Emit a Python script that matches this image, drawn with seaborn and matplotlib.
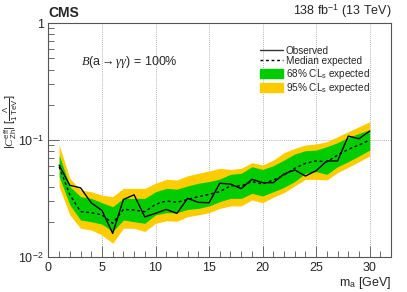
import numpy as np
import pandas as pd
import seaborn as sns
import matplotlib
matplotlib.use("Agg")
import matplotlib.pyplot as plt
from matplotlib.patches import Patch
from matplotlib.lines import Line2D
from matplotlib.ticker import FixedLocator, LogLocator, NullFormatter

mass = list(range(1, 31))
observed = [0.061, 0.041, 0.039, 0.029, 0.025, 0.0159, 0.031, 0.034, 0.022, 0.0236,
            0.0255, 0.0236, 0.0317, 0.0293, 0.0291, 0.0427, 0.042, 0.0384, 0.0461, 0.0432,
            0.0432, 0.0512, 0.0554, 0.0492, 0.0547, 0.0662, 0.0662, 0.108, 0.1026, 0.1193]
expected = [0.059, 0.034, 0.0244, 0.0239, 0.0229, 0.0194, 0.0255, 0.0252, 0.0244, 0.0282,
            0.0301, 0.0293, 0.0311, 0.0328, 0.0343, 0.0362, 0.0405, 0.0405, 0.0441, 0.042,
            0.0455, 0.050, 0.0573, 0.0632, 0.0662, 0.065, 0.0744, 0.0832, 0.0906, 0.100]
band68_up = [0.0744, 0.040, 0.0328, 0.0317, 0.0291, 0.0269, 0.0317, 0.0317, 0.0317, 0.0361,
             0.0386, 0.038, 0.0405, 0.0427, 0.0441, 0.0464, 0.0509, 0.0519, 0.0591, 0.056,
             0.0603, 0.0674, 0.0759, 0.0811, 0.082, 0.0877, 0.0949, 0.1054, 0.114, 0.122]
band68_dn = [0.0487, 0.0278, 0.0207, 0.0200, 0.0191, 0.0165, 0.0207, 0.0200, 0.0194, 0.0229,
             0.0239, 0.0239, 0.0255, 0.026, 0.0273, 0.0297, 0.0317, 0.0317, 0.035, 0.0332,
             0.0361, 0.0394, 0.0441, 0.0519, 0.0536, 0.0509, 0.0591, 0.0653, 0.073, 0.082]
band95_up = [0.0906, 0.047, 0.0374, 0.0361, 0.0338, 0.0328, 0.0386, 0.0386, 0.0386, 0.0427,
             0.0461, 0.0455, 0.0495, 0.0519, 0.0543, 0.0573, 0.056, 0.0573, 0.064, 0.0612,
             0.0674, 0.0779, 0.0849, 0.0906, 0.0924, 0.0967, 0.1068, 0.1178, 0.13, 0.1435]
band95_dn = [0.0399, 0.0229, 0.0176, 0.017, 0.0154, 0.0131, 0.0176, 0.0176, 0.0165, 0.0194,
             0.0204, 0.0202, 0.0221, 0.0229, 0.0239, 0.026, 0.0273, 0.0273, 0.0307, 0.0291,
             0.0324, 0.0355, 0.0405, 0.0461, 0.0461, 0.0455, 0.0526, 0.0584, 0.0653, 0.073]

df = pd.DataFrame({"mass": mass, "observed": observed, "expected": expected,
                   "up68": band68_up, "dn68": band68_dn, "up95": band95_up, "dn95": band95_dn})

sns.set_style("ticks")
plt.rcParams["font.family"] = ["Liberation Sans", "DejaVu Sans"]
plt.rcParams["mathtext.fontset"] = "custom"
plt.rcParams["mathtext.rm"] = "Liberation Sans"
plt.rcParams["mathtext.it"] = "Liberation Serif:italic"

green = "#00cc00"
yellow = "#ffcc00"

fig = plt.figure(figsize=(4.07, 2.92), dpi=100)
ax = fig.add_axes([0.119, 0.12, 0.842, 0.801])

ax.fill_between(df["mass"], df["dn95"], df["up95"], color=yellow, lw=0, zorder=1)
ax.fill_between(df["mass"], df["dn68"], df["up68"], color=green, lw=0, zorder=2)
sns.lineplot(data=df, x="mass", y="expected", ax=ax, color="black", lw=1.0,
             linestyle=(0, (2, 2)), zorder=3)
sns.lineplot(data=df, x="mass", y="observed", ax=ax, color="black", lw=1.0, zorder=4)

ax.set_yscale("log")
ax.set_xlim(0, 32)
ax.set_ylim(0.01, 1)

ax.set_xticks([0, 5, 10, 15, 20, 25, 30])
ax.xaxis.set_minor_locator(FixedLocator(np.arange(0, 32, 1)))
ax.set_yticks([0.01, 0.1, 1])
ax.set_yticklabels([r"$10^{-2}$", r"$10^{-1}$", "1"])
ax.yaxis.set_minor_locator(LogLocator(base=10, subs=np.arange(2, 10)))
ax.yaxis.set_minor_formatter(NullFormatter())
ax.tick_params(axis="both", which="major", direction="in", length=8, width=0.6,
               labelsize=9, color="#555555")
ax.tick_params(axis="both", which="minor", direction="in", length=4, width=0.6,
               color="#555555")
for s in ax.spines.values():
    s.set_color("#555555")
    s.set_linewidth(0.8)

for xv in [5, 10, 15, 20, 25, 30]:
    ax.axvline(xv, color="#999999", lw=0.6, ls=(0, (1, 1.5)), zorder=0.5)
ax.axhline(0.1, color="#999999", lw=0.6, ls=(0, (1, 1.5)), zorder=0.5)

ax.set_xlabel(r"m$_{\rm a}$ [GeV]", fontsize=9, loc="right", labelpad=1)
ax.set_ylabel(r"$|C^{\rm eff}_{\rm Zh}|\ [\frac{\Lambda}{1\ \rm TeV}]$", fontsize=8,
              loc="center")
ax.yaxis.set_label_coords(-0.082, 0.58)

fig.text(0.12, 0.93, "CMS", fontsize=10, fontweight="bold", ha="left", va="bottom")
fig.text(0.962, 0.93, r"138 fb$^{-1}$ (13 TeV)", fontsize=9, ha="right", va="bottom")
ax.text(0.096, 0.833, r"$\mathit{B}$(a$\rightarrow\gamma\gamma$) = 100%", fontsize=9,
        transform=ax.transAxes, ha="left", va="center")

handles = [Line2D([], [], color="#333333", lw=1.0),
           Line2D([], [], color="black", lw=1.0, ls=(0, (2, 2))),
           Patch(color=green), Patch(color=yellow)]
labels = ["Observed", "Median expected", r"68% CL$_{\rm s}$ expected",
          r"95% CL$_{\rm s}$ expected"]
ax.legend(handles, labels, loc="upper right", bbox_to_anchor=(0.95, 0.92), frameon=False,
          fontsize=7.2, handlelength=2.3, handleheight=1.0, handletextpad=0.3,
          labelspacing=0.05, borderaxespad=0)

fig.savefig("out.png", dpi=100)
